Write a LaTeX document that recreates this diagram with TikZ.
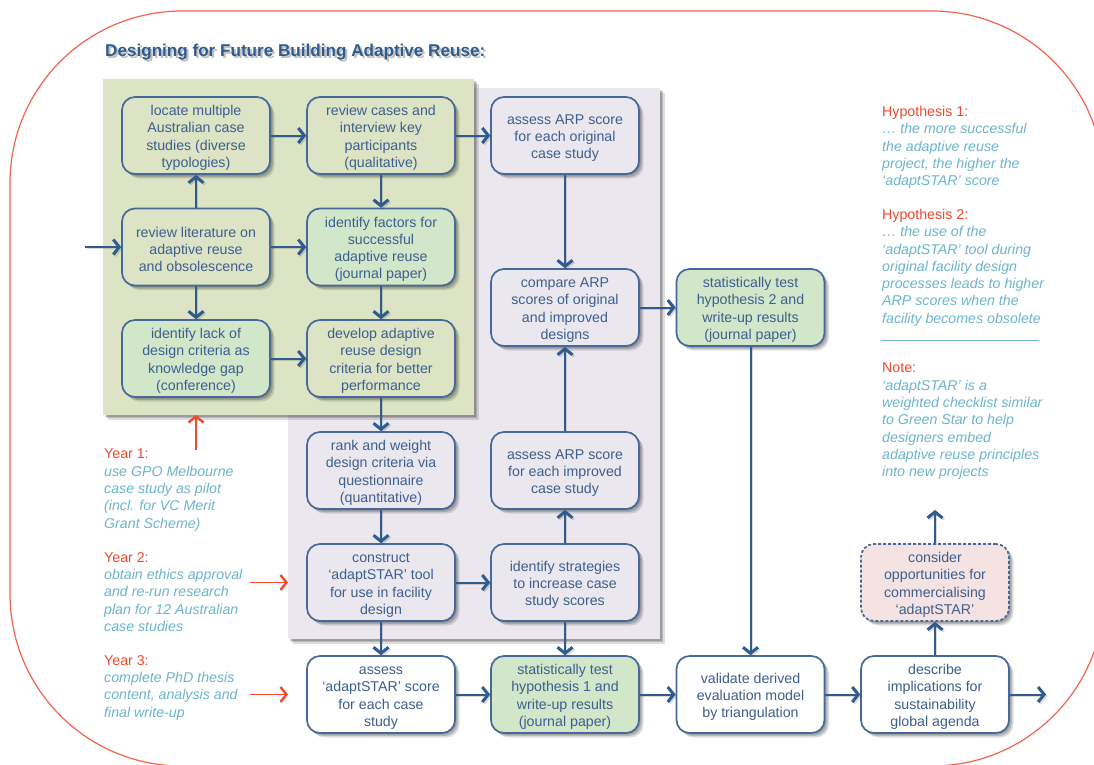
\documentclass[tikz,border=0pt]{standalone}
\usepackage{fontspec}
\setmainfont{Liberation Sans}
\usetikzlibrary{arrows.meta,shadows}
\definecolor{navy}{HTML}{2F5B8E}
\definecolor{bordr}{HTML}{47699A}
\definecolor{txt}{HTML}{3D5F8E}
\definecolor{panelG}{HTML}{DCE4C5}
\definecolor{panelP}{HTML}{EBE7EF}
\definecolor{jour}{HTML}{D2E6CA}
\definecolor{pinkb}{HTML}{F4E3E2}
\definecolor{redt}{HTML}{F0492E}
\definecolor{teal}{HTML}{6DB4CC}
\newcommand{\dn}{\rule{0pt}{15pt}}
\tikzset{
  softshadow/.style={
    general shadow={shadow xshift=1.5pt,shadow yshift=-1.5pt,fill=black,opacity=.15},
    general shadow={shadow xshift=3pt,shadow yshift=-3pt,fill=black,opacity=.17},
    general shadow={shadow xshift=4.5pt,shadow yshift=-4.5pt,fill=black,opacity=.13}},
  box/.style={draw=bordr,line width=1.7pt,rounded corners=13pt,minimum width=148pt,minimum height=77pt,
    inner sep=0pt,align=center,text=txt,softshadow,
    font=\fontsize{14.2}{17.3}\selectfont},
  gbox/.style={box,fill=panelG},
  jbox/.style={box,fill=jour},
  pbox/.style={box,fill=panelP},
  wbox/.style={box,fill=white},
  kbox/.style={box,fill=pinkb,densely dashed},
  panel/.style={anchor=north west,inner sep=0pt,softshadow},
  flow/.style={draw=navy,line width=2pt,-{Straight Barb[length=6pt,width=15pt,line width=3pt]},
    preaction={draw=black,opacity=.14,transform canvas={shift={(1.5pt,-1.5pt)}}}},
  redflow/.style={draw=redt,line width=1.7pt,-{Straight Barb[length=6pt,width=15pt,line width=2.4pt]}},
  note/.style={anchor=north west,inner sep=0pt,align=left,text=teal,
    font=\fontsize{14.2}{17.3}\selectfont\itshape},
}
\newcommand{\hd}[1]{{\color{redt}\upshape #1}}
\begin{document}
\begin{tikzpicture}[x=1pt,y=-1pt]
\useasboundingbox (0,0) rectangle (1094,764);
\begin{scope}
\clip (0,0) rectangle (1094,764);
\fill[white] (0,0) rectangle (1094,764);
\draw[redt!85,line width=1.2pt,rounded corners=172pt] (10,11) rectangle (1104,766);
\end{scope}
\node[anchor=west,inner sep=0pt,text=navy,font=\fontsize{17.1}{19}\selectfont\bfseries] (title) at (105,53)
  {\rlap{\kern2pt\raisebox{-2pt}{\color{black!25}Designing for Future Building Adaptive Reuse:}}Designing for Future Building Adaptive Reuse:};
\node[panel,fill=panelP,minimum width=372pt,minimum height=551pt] (pp) at (288,88) {};
\node[panel,fill=panelG,minimum width=371pt,minimum height=336pt] (pg) at (103,79) {};
% column 1
\node[gbox] (locate) at (196,135.5) {\dn locate multiple\\Australian case\\studies (diverse\\typologies)};
\node[gbox] (lit) at (196,247) {\dn review literature on\\adaptive reuse\\and obsolescence};
\node[jbox] (lack) at (196,358.5) {\dn identify lack of\\design criteria as\\knowledge gap\\(conference)};
% column 2
\node[gbox] (cases) at (381,135.5) {\dn review cases and\\interview key\\participants\\(qualitative)};
\node[jbox] (factors) at (381,247) {\dn identify factors for\\successful\\adaptive reuse\\(journal paper)};
\node[gbox] (develop) at (381,358.5) {\dn develop adaptive\\reuse design\\criteria for better\\performance};
\node[pbox] (rank) at (381,470.5) {\dn rank and weight\\design criteria via\\questionnaire\\(quantitative)};
\node[pbox] (construct) at (381,582.5) {\dn construct\\‘adaptSTAR’ tool\\for use in facility\\design};
\node[wbox] (assess) at (381,694.5) {\dn assess\\‘adaptSTAR’ score\\for each case\\study};
% column 3
\node[pbox] (orig) at (565,135.5) {\dn assess ARP score\\for each original\\case study};
\node[pbox] (compare) at (565,307.5) {\dn compare ARP\\scores of original\\and improved\\designs};
\node[pbox] (improved) at (565,470.5) {\dn assess ARP score\\for each improved\\case study};
\node[pbox] (strategies) at (565,582.5) {\dn identify strategies\\to increase case\\study scores};
\node[jbox] (hone) at (565,694.5) {\dn statistically test\\hypothesis 1 and\\write-up results\\(journal paper)};
% column 4
\node[jbox] (htwo) at (750.5,307.5) {\dn statistically test\\hypothesis 2 and\\write-up results\\(journal paper)};
\node[wbox] (validate) at (750.5,694.5) {\dn validate derived\\evaluation model\\by triangulation};
% column 5
\node[kbox] (consider) at (935,582.5) {\dn consider\\opportunities for\\commercialising\\‘adaptSTAR’};
\node[wbox] (describe) at (935,694.5) {\dn describe\\implications for\\sustainability\\global agenda};
% free ends
\coordinate (inlit) at (85,247);
\coordinate (outdesc) at (1046,694.5);
\coordinate (outcons) at (935,510);
\coordinate (yone) at (196,450);
\coordinate (yonet) at (196,415);
\coordinate (ytwo) at (250,582.5);
\coordinate (ythree) at (250,694.5);
% connectors
\draw[flow] (inlit) -- (lit);
\draw[flow] (locate) -- (cases);
\draw[flow] (cases) -- (orig);
\draw[flow] (lit) -- (locate);
\draw[flow] (lit) -- (factors);
\draw[flow] (lit) -- (lack);
\draw[flow] (cases) -- (factors);
\draw[flow] (factors) -- (develop);
\draw[flow] (lack) -- (develop);
\draw[flow] (develop) -- (rank);
\draw[flow] (rank) -- (construct);
\draw[flow] (construct) -- (assess);
\draw[flow] (construct) -- (strategies);
\draw[flow] (strategies) -- (improved);
\draw[flow] (improved) -- (compare);
\draw[flow] (orig) -- (compare);
\draw[flow] (compare) -- (htwo);
\draw[flow] (strategies) -- (hone);
\draw[flow] (assess) -- (hone);
\draw[flow] (hone) -- (validate);
\draw[flow] (htwo) -- (validate);
\draw[flow] (validate) -- (describe);
\draw[flow] (describe) -- (outdesc);
\draw[flow] (describe) -- (consider);
\draw[flow] (consider) -- (outcons);
% left notes
\node[note] (nyone) at (104,449) {\hd{Year 1:}\\use GPO Melbourne\\case study as pilot\\(incl. for VC Merit\\Grant Scheme)};
\node[note] (nytwo) at (104,552) {\hd{Year 2:}\\obtain ethics approval\\and re-run research\\plan for 12 Australian\\case studies};
\node[note] (nythree) at (104,655) {\hd{Year 3:}\\complete PhD thesis\\content, analysis and\\final write-up};
\draw[redflow] (yone) -- (yonet);
\draw[redflow] (ytwo) -- (pp.west |- ytwo);
\draw[redflow] (ythree) -- (pp.west |- ythree);
% right notes
\node[note] (hone n) at (882,106) {\hd{Hypothesis 1:}\\… the more successful\\the adaptive reuse\\project, the higher the\\‘adaptSTAR’ score};
\node[note] (htwo n) at (882,209) {\hd{Hypothesis 2:}\\… the use of the\\‘adaptSTAR’ tool during\\original facility design\\processes leads to higher\\ARP scores when the\\facility becomes obsolete};
\coordinate (rulea) at (881,340);
\coordinate (ruleb) at (1039,340);
\draw[teal,line width=.8pt] (rulea) -- (ruleb);
\node[note] (note n) at (882,363) {\hd{Note:}\\‘adaptSTAR’ is a\\weighted checklist similar\\to Green Star to help\\designers embed\\adaptive reuse principles\\into new projects};
\end{tikzpicture}
\end{document}
